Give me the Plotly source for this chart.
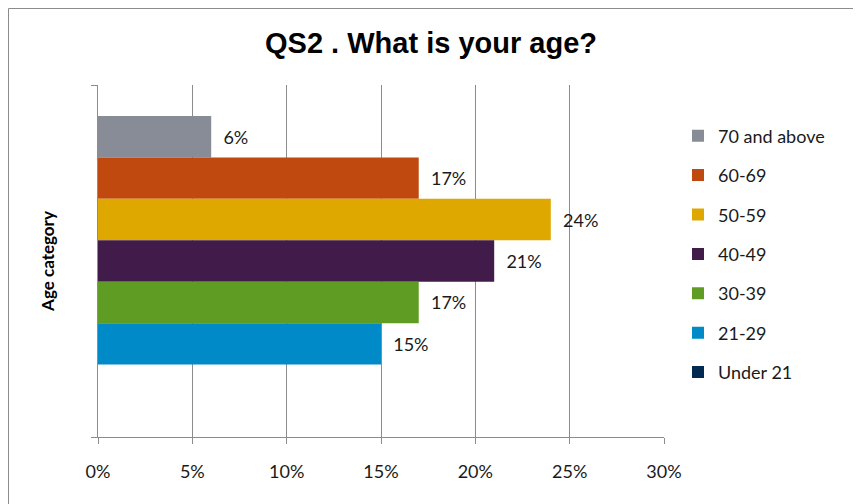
import plotly.graph_objects as go

# Data (top to bottom in the chart, same as legend order)
series_names = ["70 and above", "60-69", "50-59", "40-49", "30-39", "21-29", "Under 21"]
values = [0.06, 0.17, 0.24, 0.21, 0.17, 0.15, 0.0]
colors = ["#878c96", "#c0490f", "#dfa800", "#411c4a", "#5f9c23", "#008bc8", "#002a50"]
category = ["Age"]
x_ticks = [0, 0.05, 0.10, 0.15, 0.20, 0.25, 0.30]
x_tick_labels = ["0%", "5%", "10%", "15%", "20%", "25%", "30%"]

FONT = "Lato"

fig = go.Figure()
for name, v, c in zip(series_names, values, colors):
    fig.add_trace(go.Bar(
        name=name,
        y=category,
        x=[v],
        orientation="h",
        marker=dict(color=c, line=dict(width=0)),
        text=["\u00a0\u00a0" + f"{round(v*100)}%" if v > 0 else ""],
        textposition="outside",
        textfont=dict(family=FONT, size=18, color="#1a1a1a"),
        cliponaxis=False,
        legendgroup=name,
        hoverinfo="x+name",
    ))

# The page body has an 8px margin, so the figure is placed at (8, 8) in the window.
OFF = 8
W, H = 861 - OFF, 504 - OFF
L, R, T, B = 98 - OFF, 197, 85 - OFF, 67
pw, ph = W - L - R, H - T - B

def px_to_paper_x(px):  # px in window coordinates
    return (px - OFF - L) / pw

def px_to_paper_y(py):  # py in window coordinates
    return (H - B - (py - OFF)) / ph

fig.update_layout(
    width=W, height=H,
    margin=dict(l=L, r=R, t=T, b=B, pad=0, autoexpand=False),
    paper_bgcolor="white",
    plot_bgcolor="white",
    barmode="group",
    bargap=0.176,
    bargroupgap=0,
    title=dict(
        text="<b>QS2 . What is your age?</b>",
        x=(431 - OFF) / W, xref="container", xanchor="center",
        y=1 - (43 - OFF) / H, yref="container", yanchor="middle",
        font=dict(family="Liberation Sans, Arial", size=29, color="#000000"),
    ),
    showlegend=True,
    legend=dict(
        traceorder="grouped",
        x=px_to_paper_x(678), xanchor="left",
        y=px_to_paper_y(117.5), yanchor="top",
        font=dict(family=FONT, size=18, color="#1a1a1a"),
        tracegroupgap=13,
        bgcolor="rgba(0,0,0,0)",
        itemwidth=30,
    ),
    xaxis=dict(
        range=[0, 0.30],
        tickvals=x_ticks,
        ticktext=x_tick_labels,
        showgrid=True,
        gridcolor="#8c8c8c",
        gridwidth=1,
        zeroline=False,
        showline=True,
        linecolor="#8c8c8c",
        ticks="outside",
        ticklen=6,
        tickcolor="#8c8c8c",
        ticklabelstandoff=12,
        tickfont=dict(family=FONT, size=18, color="#1a1a1a"),
        automargin=False,
        fixedrange=True,
    ),
    yaxis=dict(
        type="category",
        autorange="reversed",
        showticklabels=False,
        showline=True,
        linecolor="#8c8c8c",
        ticks="outside",
        tickson="boundaries",
        ticklen=6,
        tickcolor="#8c8c8c",
        showgrid=False,
        title=dict(
            text="<b>Age category</b>",
            font=dict(family=FONT, size=17, color="#000000"),
            standoff=38,
        ),
        automargin=False,
        fixedrange=True,
    ),
    shapes=[dict(
        type="rect", xref="paper", yref="paper",
        x0=px_to_paper_x(8.5), x1=px_to_paper_x(880),
        y0=px_to_paper_y(520), y1=px_to_paper_y(8.5),
        line=dict(color="#8c8c8c", width=1),
        fillcolor="rgba(0,0,0,0)",
        layer="below",
    )],
)

fig.write_html("out.html")
